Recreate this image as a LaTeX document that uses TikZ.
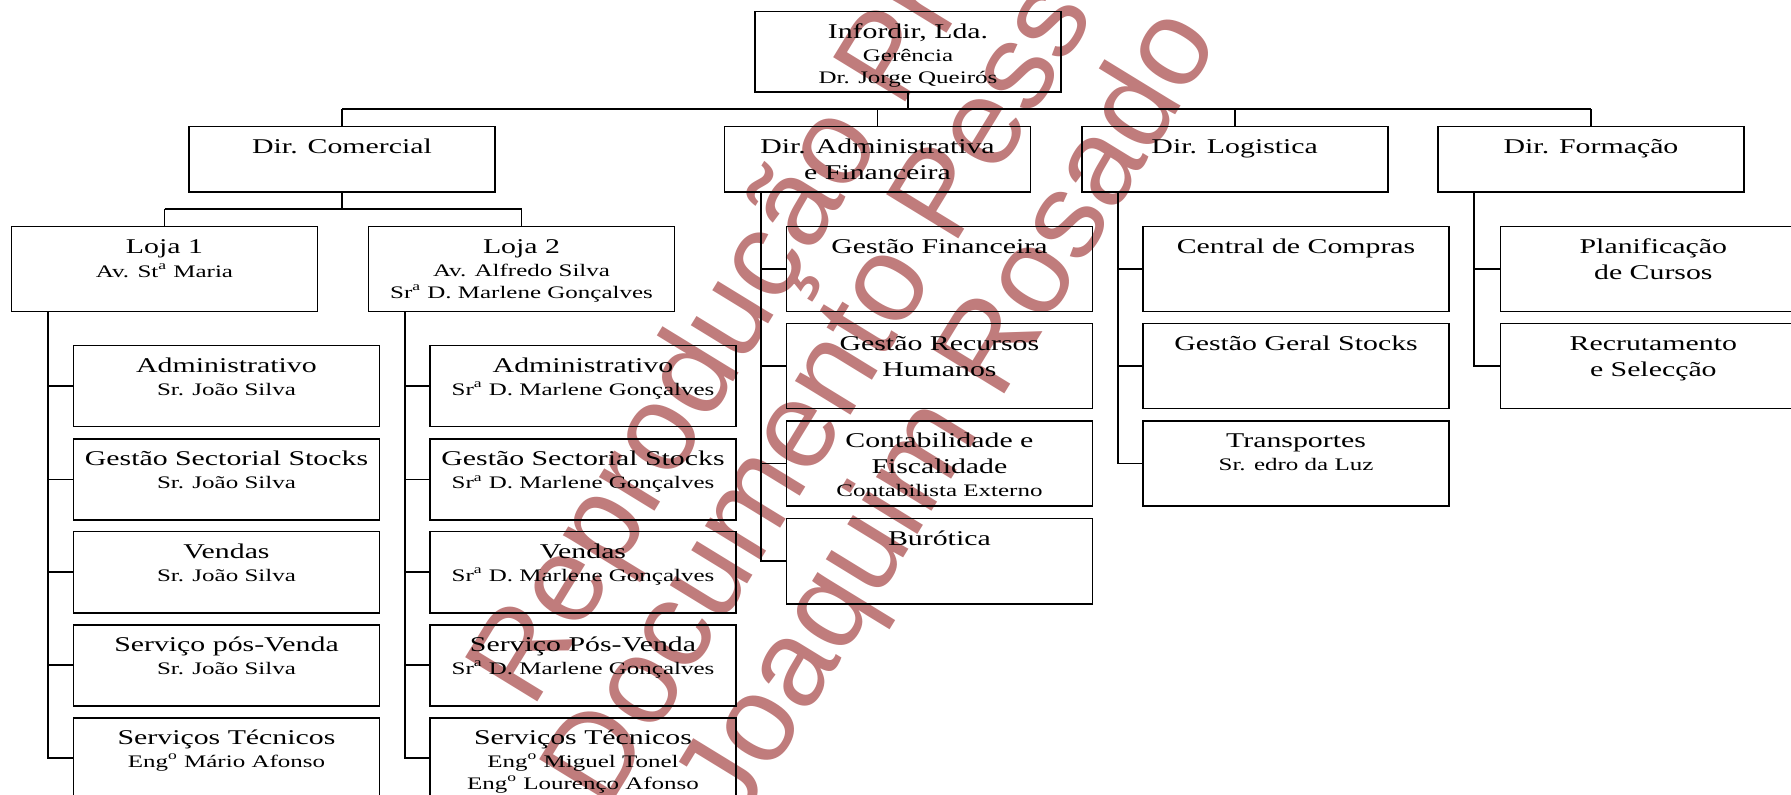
\documentclass[tikz,border=0pt]{standalone}
\usepackage{fontspec}
\setmainfont{Liberation Serif}[FakeStretch=1.42]
\newfontfamily\wmfont{Liberation Sans}
\usepackage{tikz}
\definecolor{wmred}{RGB}{192,124,124}
\newcommand{\ftitle}{\fontsize{10.5}{13}\selectfont}
\newcommand{\fsub}{\fontsize{8.8}{10.7}\selectfont}
\newcommand{\firstline}{\rule{0pt}{10pt}}
\tikzset{
    box/.style={draw, line width=0.8pt, minimum width=153pt, inner sep=0pt},
    txt/.style={anchor=north, align=center, inner sep=0pt, font=\ftitle},
    link/.style={line width=0.8pt},
    wm/.style={font=\wmfont\fontsize{61.5}{61.5}\selectfont, text=wmred, inner sep=0pt,
        anchor=base west, rotate=58.5}
}

\begin{document}
\begin{tikzpicture}[x=0.5pt, y=-0.5pt]
    %% Page
    \useasboundingbox (0,0) rectangle (1791,795);
    \clip (0,0) rectangle (1791,795);
    %% Watermark
    \node[wm] (wm1) at (532,710.8) {Reprodução Proibida};
    \node[wm] (wm2) at (606.6,812.8) {Documento Pessoal};
    \node[wm] (wm3) at (738.3,827.7) {Joaquim Rosado};
    %% Boxes
    \foreach \nm/\x/\y/\hh/\txt in {
        top/908/52/40.3/{Infordir, Lda.\\[-1.5pt]{\fsub Gerência}\\[-2pt]{\fsub Dr. Jorge Queirós}},
        dcom/342/159.5/32.8/{Dir. Comercial},
        dadm/877.5/159.5/32.8/{Dir. Administrativa\\e Financeira},
        dlog/1234.7/159.5/32.8/{Dir. Logistica},
        dfor/1591/159.5/32.8/{Dir. Formação},
        loja1/164.5/269.2/42.5/{Loja 1\\[-1pt]{\fsub Av. St\textsuperscript{a} Maria}},
        loja2/521.5/269.2/42.5/{Loja 2\\[-1.5pt]{\fsub Av. Alfredo Silva}\\[-2.2pt]{\fsub Sr\textsuperscript{a} D. Marlene Gonçalves}},
        l1a/226.5/386.2/40.5/{Administrativo\\[-1.5pt]{\fsub Sr. João Silva}},
        l1b/226.5/479.5/40.5/{Gestão Sectorial Stocks\\[-1.5pt]{\fsub Sr. João Silva}},
        l1c/226.5/572.2/40.5/{Vendas\\[-1.5pt]{\fsub Sr. João Silva}},
        l1d/226.5/665.2/40.5/{Serviço pós-Venda\\[-1.5pt]{\fsub Sr. João Silva}},
        l1e/226.5/758.2/40.5/{Serviços Técnicos\\[-1.5pt]{\fsub Eng\textsuperscript{o} Mário Afonso}},
        l2a/583/386.2/40.5/{Administrativo\\[-1.5pt]{\fsub Sr\textsuperscript{a} D. Marlene Gonçalves}},
        l2b/583/479.5/40.5/{Gestão Sectorial Stocks\\[-1.5pt]{\fsub Sr\textsuperscript{a} D. Marlene Gonçalves}},
        l2c/583/572.2/40.5/{Vendas\\[-1.5pt]{\fsub Sr\textsuperscript{a} D. Marlene Gonçalves}},
        l2d/583/665.2/40.5/{Serviço Pós-Venda\\[-1.5pt]{\fsub Sr\textsuperscript{a} D. Marlene Gonçalves}},
        l2e/583/758.2/40.5/{Serviços Técnicos\\[-1.5pt]{\fsub Eng\textsuperscript{o} Miguel Tonel}\\[-2pt]{\fsub Eng\textsuperscript{o} Lourenço Afonso}},
        af1/939.4/269.2/42.5/{Gestão Financeira},
        af2/939.4/366.2/42.5/{Gestão Recursos\\Humanos},
        af3/939.4/463.5/42.5/{Contabilidade e\\Fiscalidade\\[-1.5pt]{\fsub Contabilista Externo}},
        af4/939.4/561.2/42.5/{Burótica},
        lg1/1296/269.2/42.5/{Central de Compras},
        lg2/1296/366.2/42.5/{Gestão Geral Stocks},
        lg3/1296/463.5/42.5/{Transportes\\[-1.5pt]{\fsub Sr. edro da Luz}},
        fo1/1653.3/269.2/42.5/{Planificação\\de Cursos},
        fo2/1653.3/366.2/42.5/{Recrutamento\\e Selecção}}
    {
        \node[box, minimum height=\hh pt] (\nm) at (\x,\y) {};
        \node[txt] (\nm-t) at ([yshift=-3.6pt]\nm.north) {\firstline\txt};
    }
    %% Gerencia to directions
    \coordinate (bus) at (908,109.3);
    \draw[link] (top.south) -- (top.south |- bus);
    \draw[link] (dcom.north |- bus) -- (dfor.north |- bus);
    \foreach \d in {dcom,dadm,dlog,dfor}
        \draw[link] (\d.north) -- (\d.north |- bus);
    %% Comercial to lojas
    \coordinate (cbus) at (342,209);
    \draw[link] (dcom.south) -- (dcom.south |- cbus);
    \draw[link] (loja1.north |- cbus) -- (loja2.north |- cbus);
    \foreach \d in {loja1,loja2}
        \draw[link] (\d.north) -- (\d.north |- cbus);
    %% Hanging branches
    \foreach \p/\c in {loja1/l1a,loja1/l1b,loja1/l1c,loja1/l1d,loja1/l1e,
        loja2/l2a,loja2/l2b,loja2/l2c,loja2/l2d,loja2/l2e,
        dadm/af1,dadm/af2,dadm/af3,dadm/af4,
        dlog/lg1,dlog/lg2,dlog/lg3,
        dfor/fo1,dfor/fo2}
        \draw[link] ([xshift=18.5pt]\p.south west) |- (\c.west);
\end{tikzpicture}
\end{document}
